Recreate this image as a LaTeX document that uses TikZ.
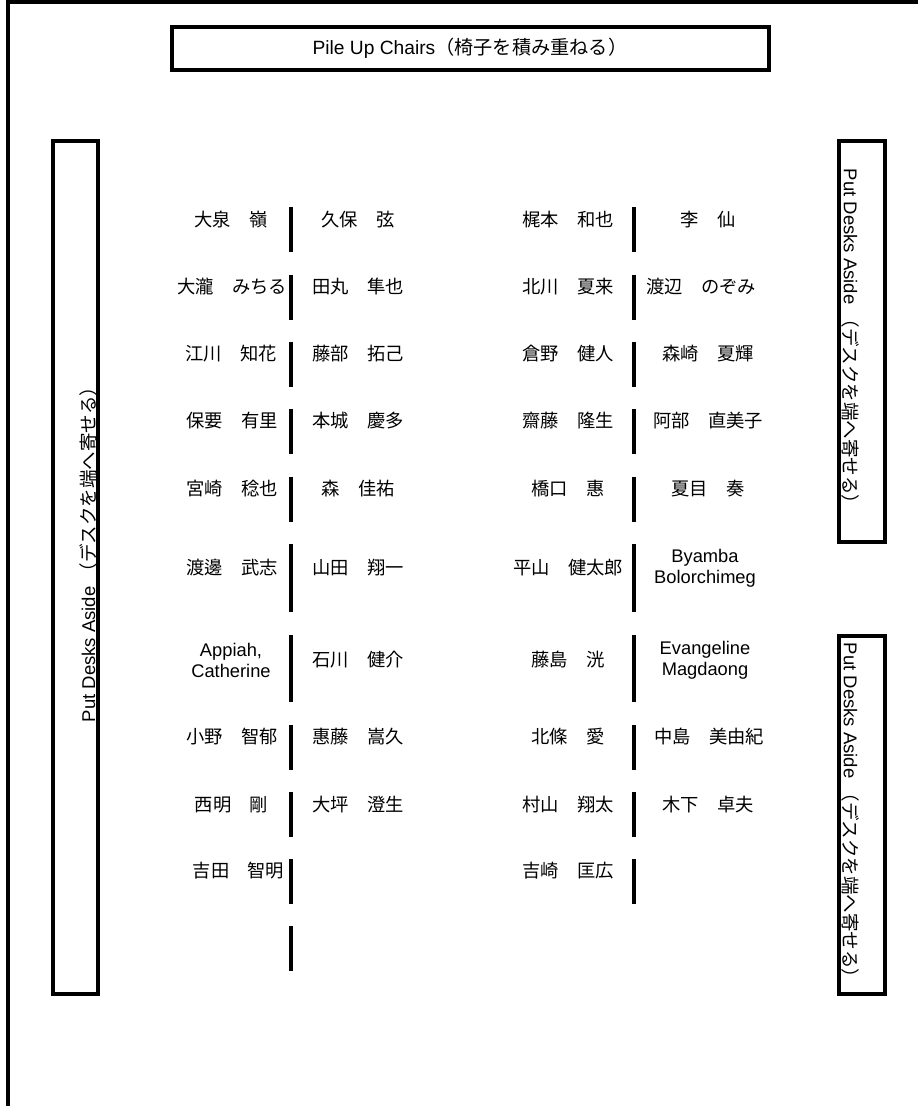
\documentclass[tikz,border=0pt]{standalone}
\usepackage{fontspec}
\setmainfont{Liberation Sans}
\newfontfamily\jpfont{Noto Sans CJK JP}
\tikzset{
  wall/.style={line width=4pt},
  aisle/.style={line width=4pt},
  seat/.style={inner sep=0pt,font=\fontsize{18.3}{21}\selectfont\jpfont},
  seaten/.style={inner sep=0pt,align=center,font=\fontsize{18.3}{21}\selectfont},
  sign/.style={inner sep=0pt,font=\fontsize{18.5}{21}\selectfont}
}

\begin{document}
\begin{tikzpicture}[x=1pt,y=-1pt]
\useasboundingbox (0,0) rectangle (918,1106);
% room edge and boxes
\draw[wall] (8,1106) -- (8,2) -- (918,2);
\draw[wall] (171.5,26.7) rectangle (768.5,70.3);
\draw[wall] (53,140.5) rectangle (98.3,994);
\draw[wall] (839,140.5) rectangle (885,542);
\draw[wall] (839,636) rectangle (885,994);
\node[sign,font=\fontsize{19.2}{21}\selectfont] (chairs) at (470,48.5) {Pile Up Chairs{\jpfont （椅子を積み重ねる）}};
\node[sign,rotate=90] (deskleft) at (88,550) {Put Desks Aside {\jpfont （デスクを端へ寄せる）}};
\node[sign,rotate=-90] (desktop) at (851,341) {Put Desks Aside {\jpfont （デスクを端へ寄せる）}};
\node[sign,rotate=-90] (deskbottom) at (851,815) {Put Desks Aside {\jpfont （デスクを端へ寄せる）}};
% aisles
\draw[aisle] (290.7,207) -- ++(0,45) (290.7,274.5) -- ++(0,45)
  (290.7,341.5) -- ++(0,45) (290.7,409) -- ++(0,45) (290.7,476.5) -- ++(0,45)
  (290.7,544) -- ++(0,68) (290.7,635) -- ++(0,67) (290.7,725) -- ++(0,45)
  (290.7,792) -- ++(0,45) (290.7,859) -- ++(0,45) (290.7,926) -- ++(0,45);
\draw[aisle] (633.7,207) -- ++(0,45) (633.7,274.5) -- ++(0,45)
  (633.7,341.5) -- ++(0,45) (633.7,409) -- ++(0,45) (633.7,476.5) -- ++(0,45)
  (633.7,544) -- ++(0,68) (633.7,635) -- ++(0,67) (633.7,725) -- ++(0,45)
  (633.7,792) -- ++(0,45) (633.7,859) -- ++(0,45);
% row 1
\node[seat] (a1) at (231,219.5) {大泉　嶺};
\node[seat] (b1) at (358,219.5) {久保　弦};
\node[seat] (c1) at (568,219.5) {梶本　和也};
\node[seat] (d1) at (708,219.5) {李　仙};
% row 2
\node[seat] (a2) at (232,286.5) {大瀧　みちる};
\node[seat] (b2) at (358,286.5) {田丸　隼也};
\node[seat] (c2) at (568,286.5) {北川　夏来};
\node[seat] (d2) at (701,286.5) {渡辺　のぞみ};
% row 3
\node[seat] (a3) at (231,354) {江川　知花};
\node[seat] (b3) at (358,354) {藤部　拓己};
\node[seat] (c3) at (568,354) {倉野　健人};
\node[seat] (d3) at (708,354) {森崎　夏輝};
% row 4
\node[seat] (a4) at (232,421) {保要　有里};
\node[seat] (b4) at (358,421) {本城　慶多};
\node[seat] (c4) at (568,421) {齋藤　隆生};
\node[seat] (d4) at (708,421) {阿部　直美子};
% row 5
\node[seat] (a5) at (232,488.5) {宮崎　稔也};
\node[seat] (b5) at (358,488.5) {森　佳祐};
\node[seat] (c5) at (568,488.5) {橋口　惠};
\node[seat] (d5) at (708,488.5) {夏目　奏};
% row 6
\node[seat] (a6) at (232,567.5) {渡邊　武志};
\node[seat] (b6) at (358,567.5) {山田　翔一};
\node[seat] (c6) at (568,567.5) {平山　健太郎};
\node[seaten] (d6) at (705,568) {Byamba\\Bolorchimeg};
% row 7
\node[seaten] (a7) at (231,660) {Appiah,\\Catherine};
\node[seat] (b7) at (358,660) {石川　健介};
\node[seat] (c7) at (568,660) {藤島　洸};
\node[seaten] (d7) at (705,660) {Evangeline\\Magdaong};
% row 8
\node[seat] (a8) at (232,736.5) {小野　智郁};
\node[seat] (b8) at (358,736.5) {惠藤　嵩久};
\node[seat] (c8) at (568,736.5) {北條　愛};
\node[seat] (d8) at (709,736.5) {中島　美由紀};
% row 9
\node[seat] (a9) at (231.5,804.5) {西明　剛};
\node[seat] (b9) at (358,804.5) {大坪　澄生};
\node[seat] (c9) at (568,804.5) {村山　翔太};
\node[seat] (d9) at (708,804.5) {木下　卓夫};
% row 10
\node[seat] (a10) at (238.5,871) {吉田　智明};
\node[seat] (c10) at (568,871) {吉崎　匡広};
\end{tikzpicture}
\end{document}
